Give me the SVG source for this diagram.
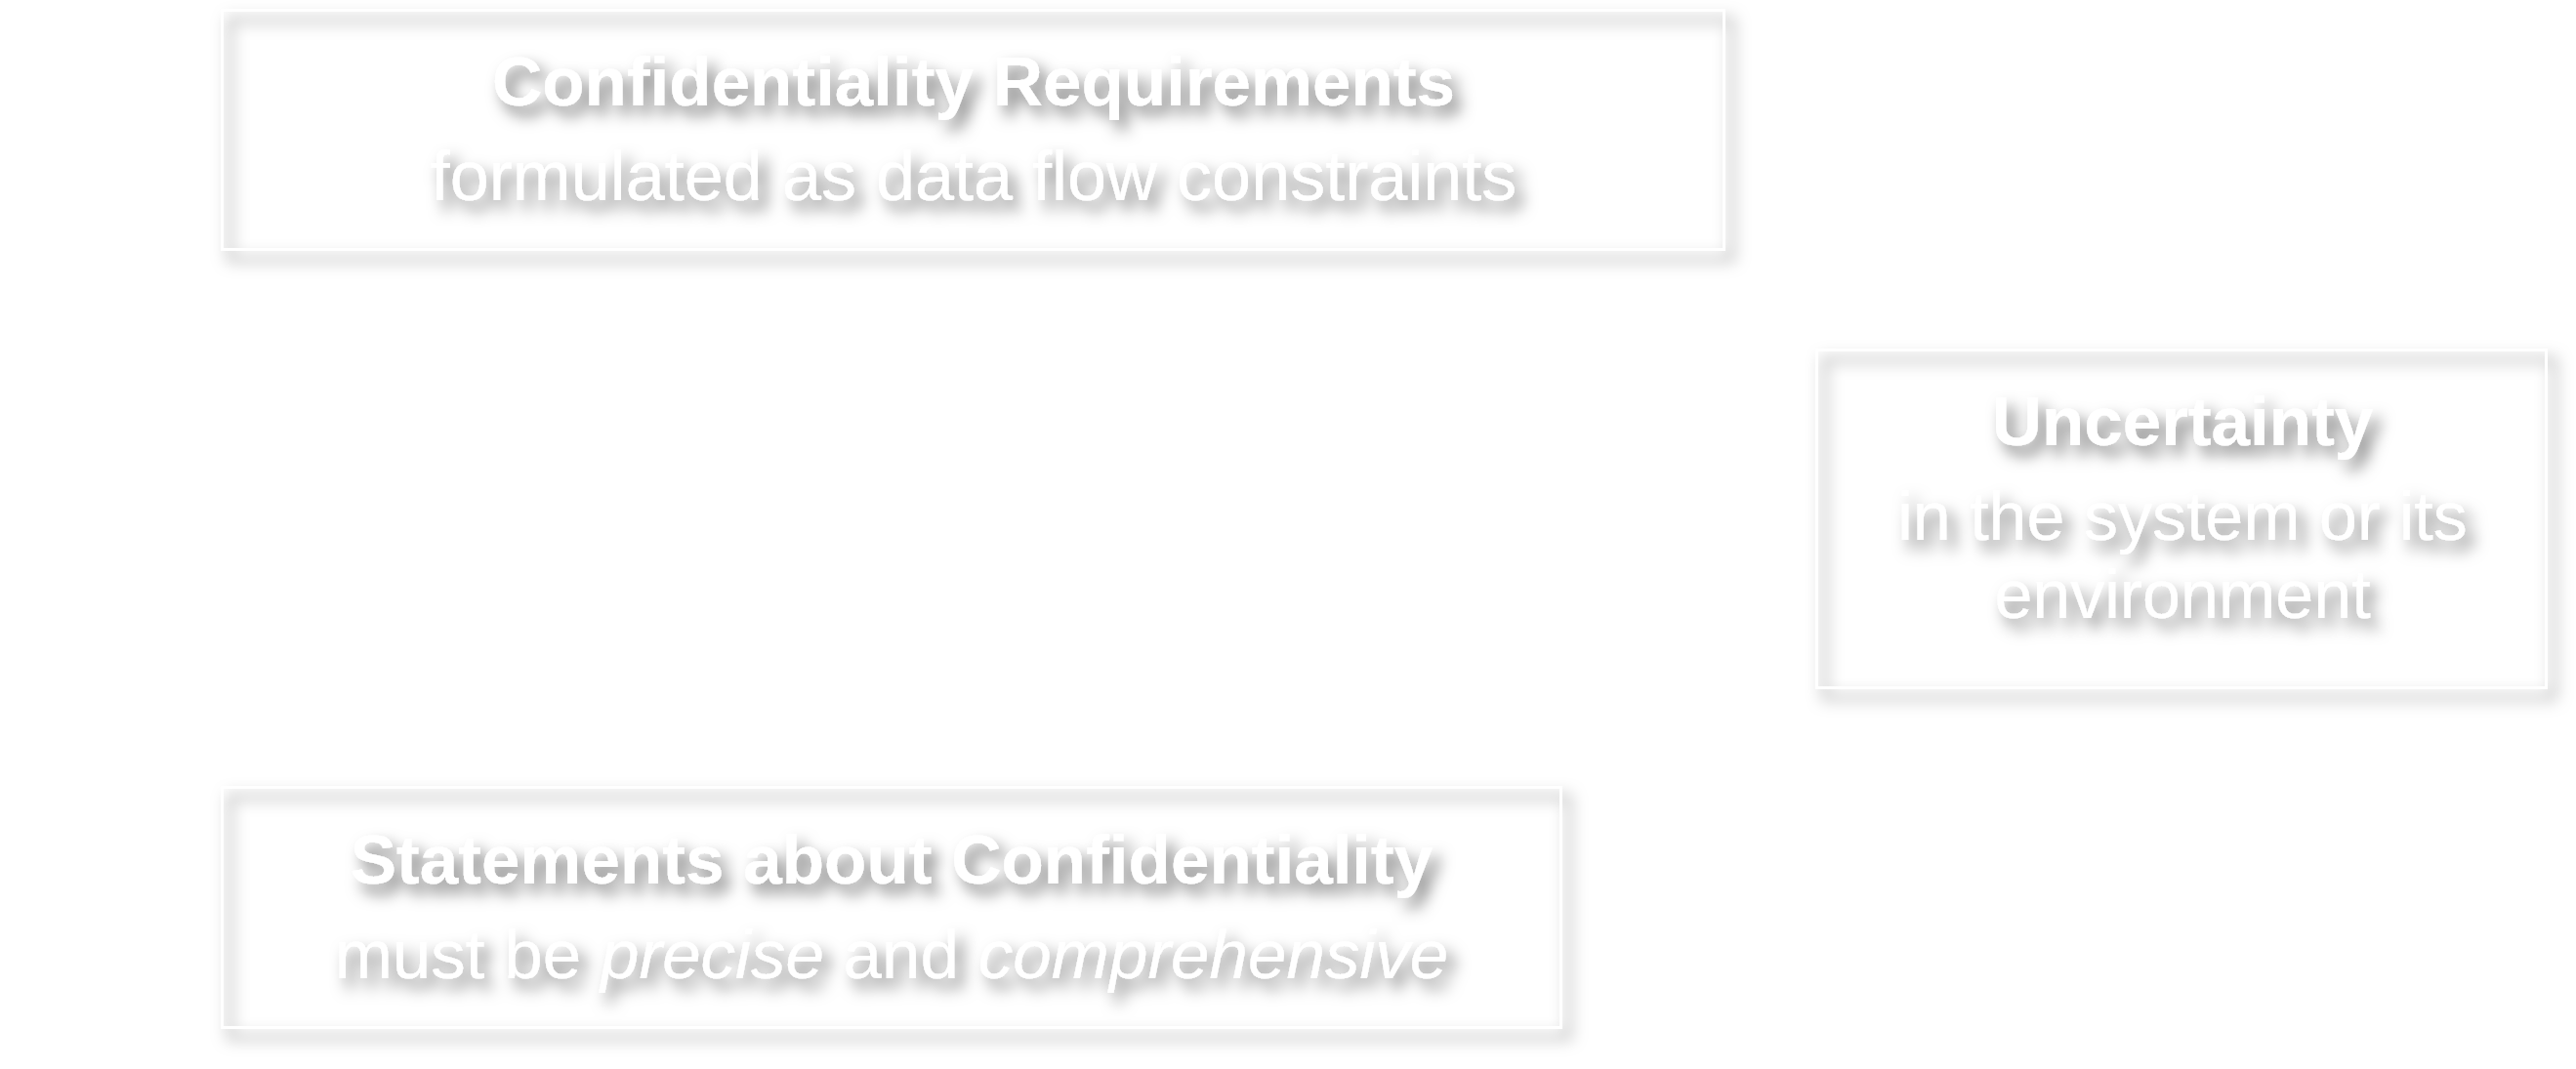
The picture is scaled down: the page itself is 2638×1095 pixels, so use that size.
<svg xmlns="http://www.w3.org/2000/svg" width="2638" height="1095" viewBox="0 0 2638 1095">
<style>
.box{fill:none;stroke:#ffffff;stroke-width:3}
.t{font-family:"Liberation Sans",Arial,sans-serif;fill:#ffffff;text-anchor:middle}
.b{font-weight:bold;font-size:71px}
.r{font-size:72px}
.i{font-style:italic}
</style>
<defs>
<filter id="sh" x="-10%" y="-20%" width="120%" height="150%">
<feDropShadow dx="8" dy="10" stdDeviation="8" flood-color="#000000" flood-opacity="0.5"/>
</filter>
</defs>
<rect width="2638" height="1095" fill="#ffffff"/>
<g id="connectors"></g>
<g id="node-requirements" filter="url(#sh)">
<rect class="box" x="227.5" y="10.5" width="1538" height="245"/>
<text class="t b" x="997" y="108">Confidentiality Requirements</text>
<text class="t r" x="997" y="205">formulated as data flow constraints</text>
</g>
<g id="node-uncertainty" filter="url(#sh)">
<rect class="box" x="1860.5" y="358.5" width="747" height="346"/>
<text class="t b" x="2235" y="456">Uncertainty</text>
<text class="t r" x="2235" y="553" style="font-size:70px">in the system or its</text>
<text class="t r" x="2235" y="633" style="font-size:70px">environment</text>
</g>
<g id="node-statements" filter="url(#sh)">
<rect class="box" x="227.5" y="806.5" width="1371" height="246"/>
<text class="t b" x="913" y="905">Statements about Confidentiality</text>
<text class="t r" x="913" y="1002" style="font-size:71px">must be <tspan class="i">precise</tspan> and <tspan class="i">comprehensive</tspan></text>
</g>
</svg>
